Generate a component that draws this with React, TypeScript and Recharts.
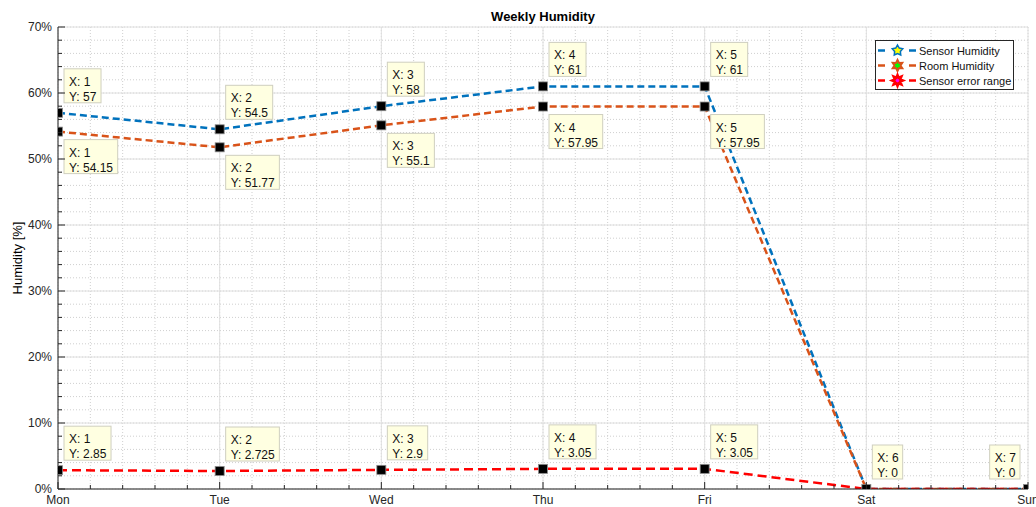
import React from "react";
import { CartesianGrid, Legend, Line, LineChart, XAxis, YAxis } from "recharts";

// weekly values
const days = ["Mon", "Tue", "Wed", "Thu", "Fri", "Sat", "Sun"];
const dayIndex = [1, 2, 3, 4, 5, 6, 7];
const sensorHumidity = [57, 54.5, 58, 61, 61, 0, 0];
const roomHumidity = [54.15, 51.77, 55.1, 57.95, 57.95, 0, 0];
const errorRange = [2.85, 2.725, 2.9, 3.05, 3.05, 0, 0];

// which points carry a data tip
const sensorTips = [1, 2, 3, 4, 5];
const roomTips = [1, 2, 3, 4, 5];
const errorTips = [1, 2, 3, 4, 5, 6, 7];

const W = 1036;
const H = 507;
const MARGIN = { top: 27, right: 8, bottom: 0, left: 0 };
const PLOT_RIGHT = W - MARGIN.right;
const AXIS = "#262626";
const FONT = "'Liberation Sans', Arial, Helvetica, sans-serif";

const SENSOR = "#0072BD";
const ROOM = "#D95319";
const ERROR = "#FF0000";

const xTicks: number[] = [];
for (let i = 0; i <= 30; i++) xTicks.push(Math.round((1 + i * 0.2) * 10) / 10);
const yTicks: number[] = [];
for (let v = 0; v <= 70; v += 2) yTicks.push(v);

const data = dayIndex.map((x, i) => ({
  x,
  sensor: sensorHumidity[i],
  room: roomHumidity[i],
  error: errorRange[i],
}));

const isMajorX = (v: number) => Math.abs(v - Math.round(v)) < 1e-6;
const isMajorY = (v: number) => v % 10 === 0;

function BottomTick(props: any) {
  const { x, y, payload } = props;
  const major = isMajorX(payload.value);
  return (
    <g>
      <line x1={x} x2={x} y1={y} y2={y - (major ? 7 : 4)} stroke={AXIS} />
      {major && (
        <text x={x} y={y + 15} textAnchor="middle" fontSize={12} fontFamily={FONT} fill={AXIS}>
          {days[Math.round(payload.value) - 1]}
        </text>
      )}
    </g>
  );
}

function TopTick(props: any) {
  const { x, y, payload } = props;
  const major = isMajorX(payload.value);
  return <line x1={x} x2={x} y1={y} y2={y + (major ? 7 : 4)} stroke={AXIS} />;
}

function LeftTick(props: any) {
  const { x, y, payload } = props;
  const major = isMajorY(payload.value);
  return (
    <g>
      <line x1={x} x2={x + (major ? 7 : 4)} y1={y} y2={y} stroke={AXIS} />
      {major && (
        <text x={x - 6} y={y + 4} textAnchor="end" fontSize={12} fontFamily={FONT} fill={AXIS}>
          {`${payload.value}%`}
        </text>
      )}
    </g>
  );
}

function RightTick(props: any) {
  const { x, y, payload } = props;
  const major = isMajorY(payload.value);
  return <line x1={x} x2={x - (major ? 7 : 4)} y1={y} y2={y} stroke={AXIS} />;
}

const CHAR_W: Record<string, number> = { X: 0.667, Y: 0.667, ":": 0.278, " ": 0.278, ".": 0.278 };
const textW = (s: string, size: number) =>
  s.split("").reduce((a, c) => a + (CHAR_W[c] ?? 0.556), 0) * size;

function tipDot(tips: number[], side: "above" | "below") {
  return (props: any) => {
    const { cx, cy, index, value, payload } = props;
    const xv = payload?.x;
    if (cx == null || cy == null || !tips.includes(xv)) return <g key={`none-${index}`} />;
    const l1 = `X: ${xv}`;
    const l2 = `Y: ${value}`;
    const w = Math.max(textW(l1, 12), textW(l2, 12)) + 9;
    const h = 34;
    const flip = cx + 6 + w > PLOT_RIGHT;
    const bx = flip ? cx - 8 - w : cx + 6;
    const by = side === "above" ? cy - 10 - h : cy + 8;
    return (
      <g key={`tip-${index}`}>
        <rect x={cx - 4.5} y={cy - 4.5} width={9} height={9} fill="#000" stroke="#8c8c8c" strokeWidth={0.8} />
        <rect x={bx} y={by} width={w} height={h} fill="#FFFFE1" stroke="#CFCFBF" />
        <text x={bx + 5} y={by + 17} fontSize={12} fontFamily={FONT} fill="#111">{l1}</text>
        <text x={bx + 5} y={by + 32} fontSize={12} fontFamily={FONT} fill="#111">{l2}</text>
      </g>
    );
  };
}

const star = (cx: number, cy: number, n: number, ro: number, ri: number) => {
  const pts: string[] = [];
  for (let i = 0; i < n * 2; i++) {
    const r = i % 2 === 0 ? ro : ri;
    const a = -Math.PI / 2 + (i * Math.PI) / n;
    pts.push(`${cx + r * Math.cos(a)},${cy + r * Math.sin(a)}`);
  }
  return pts.join(" ");
};

const legendItems = [
  { name: "Sensor Humidity", color: SENSOR, fill: "#FFFF00", points: 5, sw: 1.5 },
  { name: "Room Humidity", color: ROOM, fill: "#00FF00", points: 6, sw: 2 },
  { name: "Sensor error range", color: ERROR, fill: "#FF00FF", points: 8, sw: 2.5 },
];

function LegendBox() {
  return (
    <svg width={139} height={50} style={{ display: "block" }}>
      <rect x={0.5} y={0.5} width={138} height={49} fill="#fff" stroke={AXIS} />
      {legendItems.map((it, i) => {
        const cy = 10.5 + i * 15;
        return (
          <g key={it.name}>
            <line x1={3} x2={10} y1={cy} y2={cy} stroke={it.color} strokeWidth={2.5} />
            <line x1={34} x2={41} y1={cy} y2={cy} stroke={it.color} strokeWidth={2.5} />
            <polygon points={star(22.5, cy, it.points, 5.5, 3)} fill={it.fill} stroke={it.color} strokeWidth={it.sw} />
            <text x={44} y={cy + 4} fontSize={11} fontFamily={FONT} fill="#111">{it.name}</text>
          </g>
        );
      })}
    </svg>
  );
}

export default function App() {
  return (
    <div style={{ position: "relative", width: W, height: H, background: "#fff" }}>
      <style>{"body{margin:0}"}</style>
      <LineChart width={W} height={H} data={data} margin={MARGIN}>
        <CartesianGrid verticalValues={xTicks} horizontalValues={yTicks} stroke="#cfcfcf" strokeDasharray="1 2" />
        <CartesianGrid verticalValues={dayIndex} horizontalValues={[0, 10, 20, 30, 40, 50, 60, 70]} stroke="#e0e0e0" />
        <XAxis dataKey="x" type="number" domain={[1, 7]} ticks={xTicks} interval={0} allowDataOverflow
          height={18} tickSize={0} tickMargin={0} tickLine={false} tick={BottomTick} axisLine={{ stroke: AXIS }} />
        <XAxis xAxisId="top" orientation="top" type="number" domain={[1, 7]} ticks={xTicks} interval={0} allowDataOverflow
          height={0} tickSize={0} tickMargin={0} tickLine={false} tick={TopTick} axisLine={{ stroke: AXIS }} />
        <YAxis type="number" domain={[0, 70]} ticks={yTicks} interval={0} allowDataOverflow
          width={58} tickSize={0} tickMargin={0} tickLine={false} tick={LeftTick} axisLine={{ stroke: AXIS }} />
        <YAxis yAxisId="right" orientation="right" type="number" domain={[0, 70]} ticks={yTicks} interval={0} allowDataOverflow
          width={0} tickSize={0} tickMargin={0} tickLine={false} tick={RightTick} axisLine={{ stroke: AXIS }} />
        <Legend layout="horizontal" verticalAlign="middle" align="center" content={() => <LegendBox />}
          wrapperStyle={{ left: 875, top: 40, width: 139, height: 50 }} />
        <Line dataKey="sensor" name="Sensor Humidity" stroke={SENSOR} strokeWidth={2.5} strokeDasharray="7 4"
          dot={false} activeDot={false} isAnimationActive={false} />
        <Line dataKey="room" name="Room Humidity" stroke={ROOM} strokeWidth={2.5} strokeDasharray="7 4"
          dot={false} activeDot={false} isAnimationActive={false} />
        <Line dataKey="error" name="Sensor error range" stroke={ERROR} strokeWidth={2.5} strokeDasharray="9 5"
          dot={false} activeDot={false} isAnimationActive={false} />
        <Line dataKey="sensor" stroke="none" legendType="none" dot={tipDot(sensorTips, "above")} activeDot={false} isAnimationActive={false} />
        <Line dataKey="room" stroke="none" legendType="none" dot={tipDot(roomTips, "below")} activeDot={false} isAnimationActive={false} />
        <Line dataKey="error" stroke="none" legendType="none" dot={tipDot(errorTips, "above")} activeDot={false} isAnimationActive={false} />
      </LineChart>
      <svg width={W} height={H} style={{ position: "absolute", left: 0, top: 0, pointerEvents: "none" }}>
        <text x={543} y={21} textAnchor="middle" fontSize={13} fontWeight="bold" fontFamily={FONT} fill="#000">
          Weekly Humidity
        </text>
        <text transform="translate(17.5,258) rotate(-90)" textAnchor="middle" dy="0.35em" fontSize={13} fontFamily={FONT} fill="#000">
          Humidity [%]
        </text>
      </svg>
    </div>
  );
}
